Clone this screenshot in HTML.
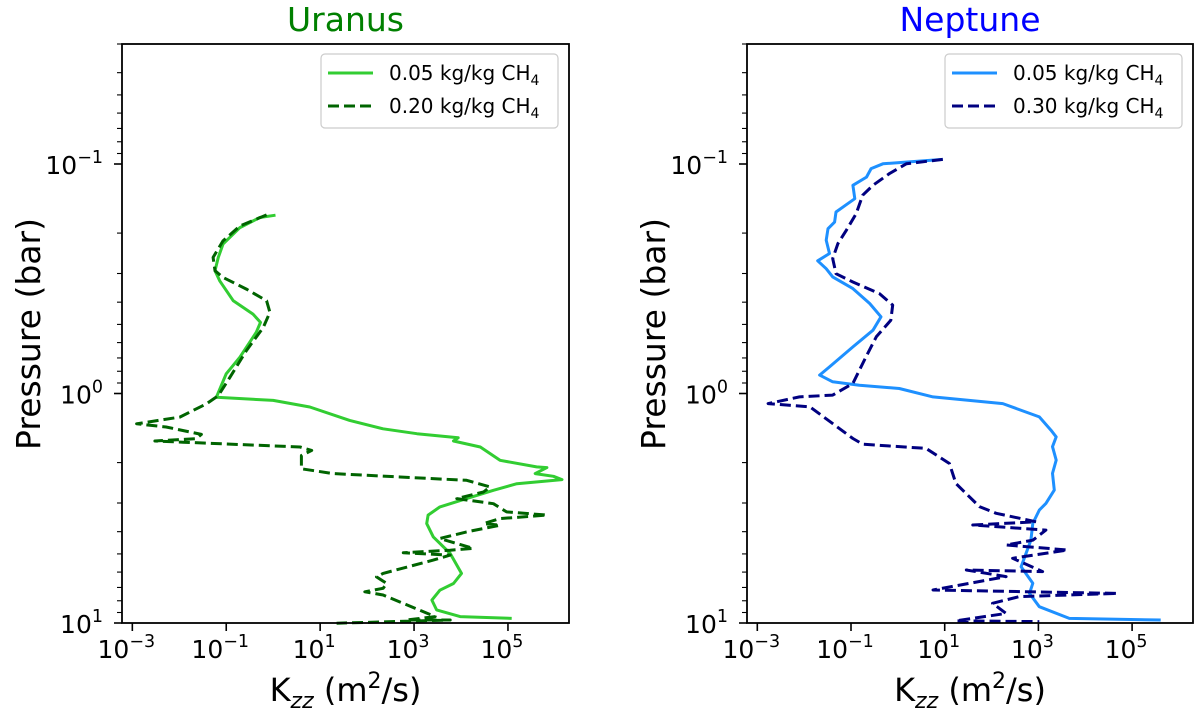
<!DOCTYPE html>
<html><head><meta charset="utf-8"><style>
body{margin:0;background:#fff;}
svg text{font-family:"DejaVu Sans","Liberation Sans",sans-serif;}
</style></head><body>
<svg id="chart" width="1200" height="713" viewBox="0 0 1200 713" xmlns="http://www.w3.org/2000/svg"></svg>
<script>
// log10 Kzz (m^2/s) and log10 Pressure (bar)
const uranusLowK = [0.05,-0.285,-0.71,-1.07,-1.17,-1.24,-1.14,-0.85,-0.43,-0.27,-0.36,-0.71,-1.0,-1.21,0.0,0.78,1.63,2.34,3.06,3.94,3.84,4.41,4.83,5.61,5.83,5.58,5.97,6.15,5.19,4.69,4.12,3.55,3.30,3.27,3.41,3.77,4.01,3.84,3.55,3.38,3.48,3.98,5.08];
const uranusLowP = [-0.777,-0.767,-0.723,-0.651,-0.593,-0.535,-0.491,-0.404,-0.346,-0.310,-0.267,-0.158,-0.086,0.016,0.030,0.059,0.117,0.154,0.175,0.193,0.207,0.233,0.291,0.320,0.323,0.349,0.361,0.375,0.393,0.422,0.458,0.494,0.530,0.567,0.625,0.697,0.784,0.828,0.857,0.900,0.943,0.972,0.980];
const uranusHighK = [-0.14,-0.71,-1.07,-1.28,-1.24,-1.07,-0.57,-0.14,-0.07,-0.21,-0.57,-0.92,-1.17,-1.42,-1.99,-2.91,-2.28,-1.53,-1.64,-2.52,-1.92,0.57,0.82,0.60,0.60,1.28,2.70,4.12,4.62,4.48,3.91,4.69,4.97,5.83,4.83,4.48,4.83,4.12,3.55,4.26,3.77,2.77,3.77,3.41,2.34,2.20,2.42,2.34,1.95,2.34,3.45,2.84,3.77,1.35];
const uranusHighP = [-0.778,-0.730,-0.665,-0.593,-0.535,-0.506,-0.455,-0.404,-0.354,-0.288,-0.187,-0.071,0.009,0.045,0.103,0.132,0.146,0.178,0.197,0.207,0.212,0.233,0.248,0.270,0.328,0.349,0.364,0.378,0.407,0.429,0.458,0.480,0.516,0.530,0.545,0.567,0.574,0.603,0.632,0.675,0.683,0.694,0.704,0.726,0.784,0.799,0.828,0.849,0.864,0.878,0.972,0.987,0.987,1.001];
const neptuneLowK = [0.96,-0.32,-0.57,-0.67,-0.96,-0.92,-1.07,-1.32,-1.35,-1.49,-1.53,-1.46,-1.71,-1.53,-1.39,-0.96,-0.60,-0.36,-0.53,-0.96,-1.46,-1.67,-1.39,-0.82,0.03,0.75,2.24,3.02,3.27,3.38,3.30,3.38,3.30,3.34,3.16,3.02,2.88,2.84,2.63,2.88,2.81,3.02,3.66,5.61];
const neptuneLowP = [-1.020,-1.001,-0.980,-0.943,-0.907,-0.849,-0.827,-0.791,-0.747,-0.718,-0.668,-0.610,-0.578,-0.544,-0.508,-0.457,-0.392,-0.334,-0.276,-0.203,-0.116,-0.080,-0.051,-0.036,-0.022,0.015,0.044,0.102,0.160,0.189,0.232,0.290,0.348,0.421,0.479,0.508,0.566,0.639,0.755,0.827,0.871,0.929,0.980,0.987];
const neptuneHighK = [0.96,0.18,-0.18,-0.53,-0.75,-0.89,-1.10,-1.28,-1.39,-1.32,-0.96,-0.39,-0.11,-0.15,-0.46,-0.68,-0.96,-1.39,-2.10,-2.77,-1.88,-1.39,-0.96,-0.75,0.60,1.10,1.24,1.74,2.10,2.95,1.60,3.16,2.88,2.31,3.62,2.45,3.09,1.46,2.31,0.75,4.69,2.59,2.02,2.31,1.24,3.02];
const neptuneHighP = [-1.020,-1.001,-0.958,-0.907,-0.864,-0.784,-0.711,-0.653,-0.588,-0.522,-0.486,-0.435,-0.385,-0.319,-0.247,-0.160,-0.044,0.007,0.015,0.044,0.058,0.131,0.196,0.221,0.239,0.305,0.392,0.493,0.522,0.559,0.573,0.595,0.639,0.660,0.682,0.718,0.776,0.769,0.798,0.856,0.871,0.885,0.914,0.958,0.991,0.994];
const xTickExps = [-3,-1,1,3,5];
const yTickExps = [-1,0,1];

const NS='http://www.w3.org/2000/svg';
const svg=document.getElementById('chart');
function mk(tag,attrs,parent){const e=document.createElementNS(NS,tag);for(const k in attrs)e.setAttribute(k,attrs[k]);(parent||svg).appendChild(e);return e;}

function panel(cfg){
  const g=mk('g',{});
  
  
  const L=cfg.left,R=cfg.right,T=44,B=623;
  const xmin=-3.22,xmax=6.3,ymin=Math.log10(0.03),ymax=1;
  const xs=v=>L+(v-xmin)/(xmax-xmin)*(R-L);
  const ys=v=>T+(v-ymin)/(ymax-ymin)*(B-T);
  cfg.series.forEach(s=>{
    const d=s.k.map((k,i)=>(i?'L':'M')+xs(k).toFixed(1)+','+ys(s.p[i]).toFixed(1)).join('');
    const p=mk('path',{d:d,fill:'none',stroke:s.color,'stroke-width':3,'stroke-dasharray':s.dash||'none','stroke-linejoin':'round'},g);
    
    
  });
  const fr=mk('rect',{x:L,y:T,width:R-L,height:B-T,fill:'none',stroke:'#000','stroke-width':1.8},g);
  
  
  xTickExps.forEach(e=>{
    const x=xs(e);
    mk('line',{x1:x,x2:x,y1:B,y2:B+8,stroke:'#000','stroke-width':1.6},g);
    const t=mk('text',{x:x-6,y:658,'font-size':25,'text-anchor':'middle'},g);
    
    
    t.textContent='10';
    const s=mk('tspan',{dy:-11,'font-size':17.5},t);s.textContent=(e<0?'\u2212':'')+Math.abs(e);
  });
  yTickExps.forEach(e=>{
    const y=ys(e);
    mk('line',{x1:L-8,x2:L,y1:y,y2:y,stroke:'#000','stroke-width':1.6},g);
    const t=mk('text',{x:L-19,y:y+10,'font-size':25,'text-anchor':'end'},g);
    
    
    t.textContent='10';
    const s=mk('tspan',{dy:-11,'font-size':17.5},t);s.textContent=(e<0?'\u2212':'')+Math.abs(e);
  });
  for(let d=-2;d<1;d++)for(let m=2;m<10;m++){
    const v=d+Math.log10(m); if(v<ymin)continue;
    const y=ys(v); mk('line',{x1:L-5,x2:L,y1:y,y2:y,stroke:'#000','stroke-width':1.1},g);
  }
  const tt=mk('text',{x:(L+R)/2,y:31,'font-size':33,'text-anchor':'middle',fill:cfg.titleColor},g);
  
  
  tt.textContent=cfg.title;
  const yl=mk('text',{transform:'translate('+(L-82)+',334) rotate(-90)','font-size':33,'text-anchor':'middle'},g);
  
  
  yl.textContent='Pressure (bar)';
  const xl=mk('text',{x:(L+R)/2,y:701,'font-size':32,'text-anchor':'middle'},g);
  
  
  xl.textContent='K';
  let sp=mk('tspan',{dy:7,'font-size':22,'font-style':'italic'},xl);sp.textContent='zz';
  sp=mk('tspan',{dy:-7},xl);sp.textContent=' (m';
  sp=mk('tspan',{dy:-13,'font-size':22},xl);sp.textContent='2';
  sp=mk('tspan',{dy:13},xl);sp.textContent='/s)';
  const lg=mk('g',{},g);
  
  
  const lx=R-248,ly=54;
  mk('rect',{x:lx,y:ly,width:237,height:74,rx:4,fill:'#fff',stroke:'#ccc','stroke-width':1.2},lg);
  cfg.series.forEach((s,i)=>{
    const y=ly+19+i*33;
    mk('line',{x1:lx+7,x2:lx+52,y1:y,y2:y,stroke:s.color,'stroke-width':3,'stroke-dasharray':s.dash||'none'},lg);
    const t=mk('text',{x:lx+68,y:y+7,'font-size':20},lg);
    
    
    t.textContent=s.label+' kg/kg CH';
    const sub=mk('tspan',{dy:5,'font-size':14},t);sub.textContent='4';
  });
}
panel({name:'uranus-panel',left:122,right:569,title:'Uranus',titleColor:'#008000',series:[
  {name:'uranus-0.05-line',k:uranusLowK,p:uranusLowP,color:'#32cd32',label:'0.05'},
  {name:'uranus-0.20-line',k:uranusHighK,p:uranusHighP,color:'#006400',dash:'11,5',label:'0.20'}]});
panel({name:'neptune-panel',left:747,right:1193,title:'Neptune',titleColor:'#0000ff',series:[
  {name:'neptune-0.05-line',k:neptuneLowK,p:neptuneLowP,color:'#1e90ff',label:'0.05'},
  {name:'neptune-0.30-line',k:neptuneHighK,p:neptuneHighP,color:'#000080',dash:'11,5',label:'0.30'}]});
</script>
</body></html>
